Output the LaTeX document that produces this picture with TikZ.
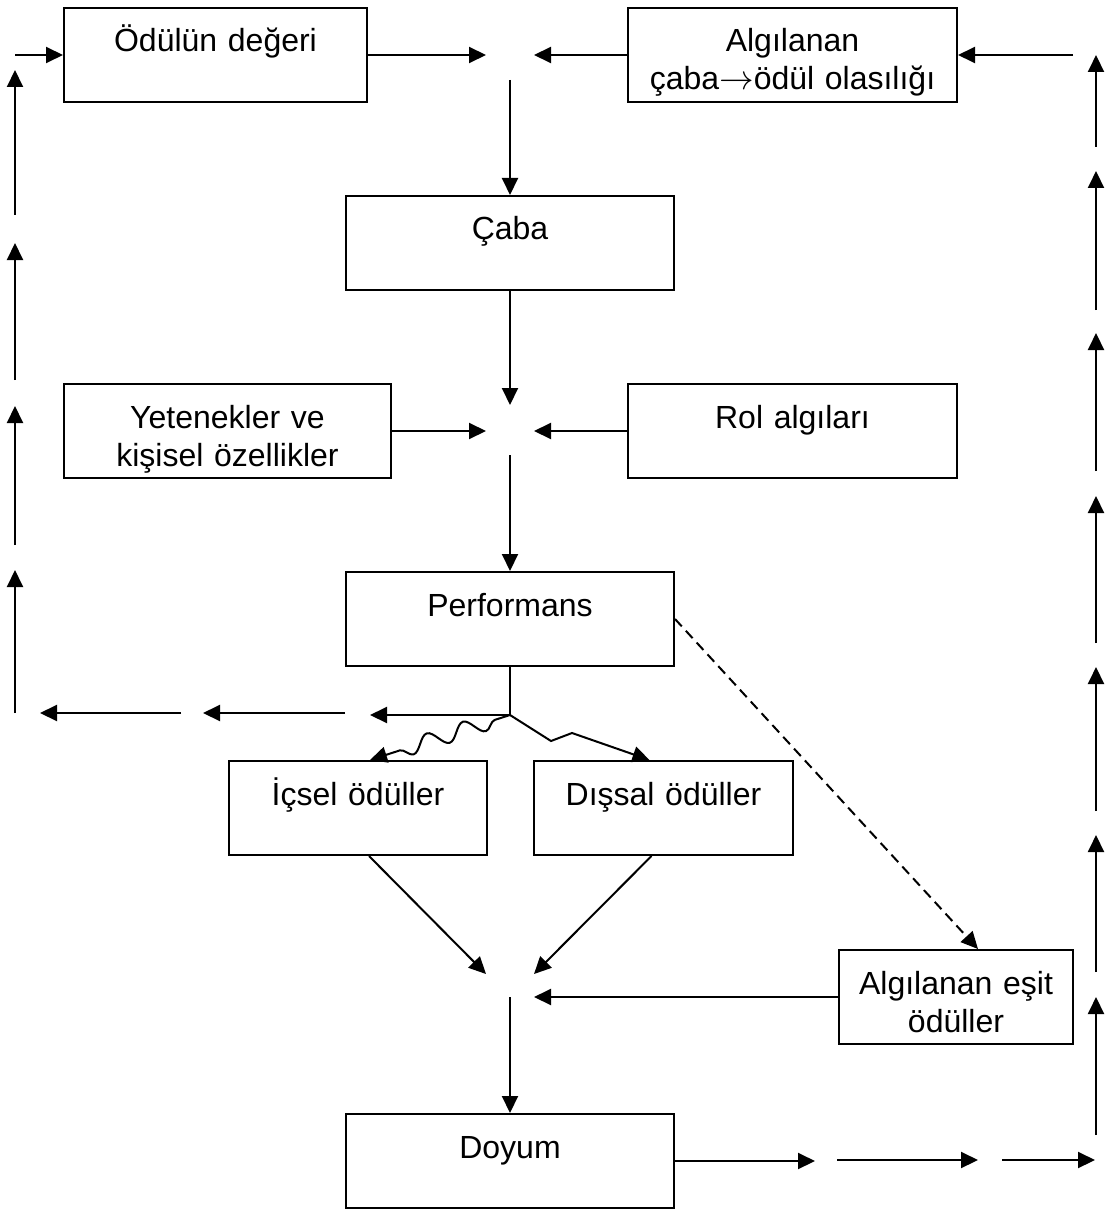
\documentclass[tikz,border=0pt]{standalone}
\usepackage{fontspec}
\setmainfont{Liberation Sans}
\usetikzlibrary{arrows.meta, positioning, decorations.pathmorphing}
\tikzset{
  >=Triangle,
  flowarrow/.style={-{Triangle[length=8.5pt, width=8pt]}, line width=1pt, black},
  stagebox/.style={draw, line width=1pt, inner sep=0pt, align=center, anchor=north west,
    text width=#1, text height=22pt, text depth=25pt, font=\fontsize{16pt}{19pt}\selectfont}
}

\begin{document}
\begin{tikzpicture}[x=0.5pt, y=-0.5pt]
    \useasboundingbox (0,0) rectangle (1107,1209);

    \node (value) [stagebox=151.5pt] at (63,7) {Ödülün değeri};
    \node (prob) [stagebox=164.5pt] at (627,7) {Algılanan\\çaba$\rightarrow$ödül olasılığı};
    \node (effort) [stagebox=164pt] at (345,195) {Çaba};
    \node (ability) [stagebox=163.5pt] at (63,383) {Yetenekler ve\\kişisel özellikler};
    \node (role) [stagebox=164.5pt] at (627,383) {Rol algıları};
    \node (perf) [stagebox=164pt] at (345,571) {Performans};
    \node (intr) [stagebox=129pt] at (228,760) {İçsel ödüller};
    \node (extr) [stagebox=129.5pt] at (533,760) {Dışsal ödüller};
    \node (equit) [stagebox=117pt] at (838,949) {Algılanan eşit\\ödüller};
    \node (satis) [stagebox=164pt] at (345,1113) {Doyum};

    % junctions between the boxes
    \coordinate (jtop) at (value.east -| effort.north);
    \coordinate (jmid) at (ability.east -| effort.south);
    \coordinate (jsplit) at ([yshift=-24pt]perf.south);
    \coordinate (jbot) at (equit.west -| satis.north);
    \coordinate (ltop) at (value.west -| 15,0);
    \coordinate (rtop) at (prob.east -| 1073,0);

    \draw[flowarrow] (ltop) -- (value.west);
    \draw[flowarrow] (value.east) -- ([xshift=-12pt]jtop);
    \draw[flowarrow] (prob.west) -- ([xshift=12pt]jtop);
    \draw[flowarrow] (rtop) -- (prob.east);
    \draw[flowarrow] ([yshift=-12.5pt]jtop) -- (effort.north);

    \draw[flowarrow] (effort.south) -- ([yshift=13pt]jmid);
    \draw[flowarrow] (ability.east) -- ([xshift=-12pt]jmid);
    \draw[flowarrow] (role.west) -- ([xshift=12pt]jmid);
    \draw[flowarrow] ([yshift=-12pt]jmid) -- (perf.north);

    \draw[line width=1pt] (perf.south) -- (jsplit);
    \draw[flowarrow] (jsplit) -- ([xshift=-70pt]jsplit);
    \draw[flowarrow, decorate, decoration={snake, amplitude=4pt, segment length=19pt, pre length=8pt, post length=10pt}]
        (jsplit) -- ([xshift=6pt]intr.north);
    \draw[flowarrow] (jsplit) -- ++(41,26) -- ++(21,-8) -- ([xshift=-7pt]extr.north);
    \draw[flowarrow, dash pattern=on 5pt off 3pt] (perf.east) -- ([xshift=11pt]equit.north);

    \draw[flowarrow] ([xshift=5.5pt]intr.south) -- ([xshift=-12pt, yshift=11.5pt]jbot);
    \draw[flowarrow] ([xshift=-6pt]extr.south) -- ([xshift=12pt, yshift=11.5pt]jbot);
    \draw[flowarrow] (equit.west) -- ([xshift=12pt]jbot);
    \draw[flowarrow] (jbot) -- (satis.north);

    % broken feedback lines
    \foreach \xa/\xb in {345/203, 181/40}
        \draw[flowarrow] (\xa,713) -- (\xb,713);
    \foreach \ya/\yb in {713/570, 545/406, 380/243, 215/70}
        \draw[flowarrow] (15,\ya) -- (15,\yb);
    \draw[flowarrow] (satis.east) -- ++(140,0);
    \foreach \xa/\xb in {837/978, 1002/1095}
        \draw[flowarrow] (\xa,1160) -- (\xb,1160);
    \foreach \ya/\yb in {1135/997, 972/835, 811/667, 643/496, 471/333, 310/171, 147/55}
        \draw[flowarrow] (1096,\ya) -- (1096,\yb);
\end{tikzpicture}
\end{document}
